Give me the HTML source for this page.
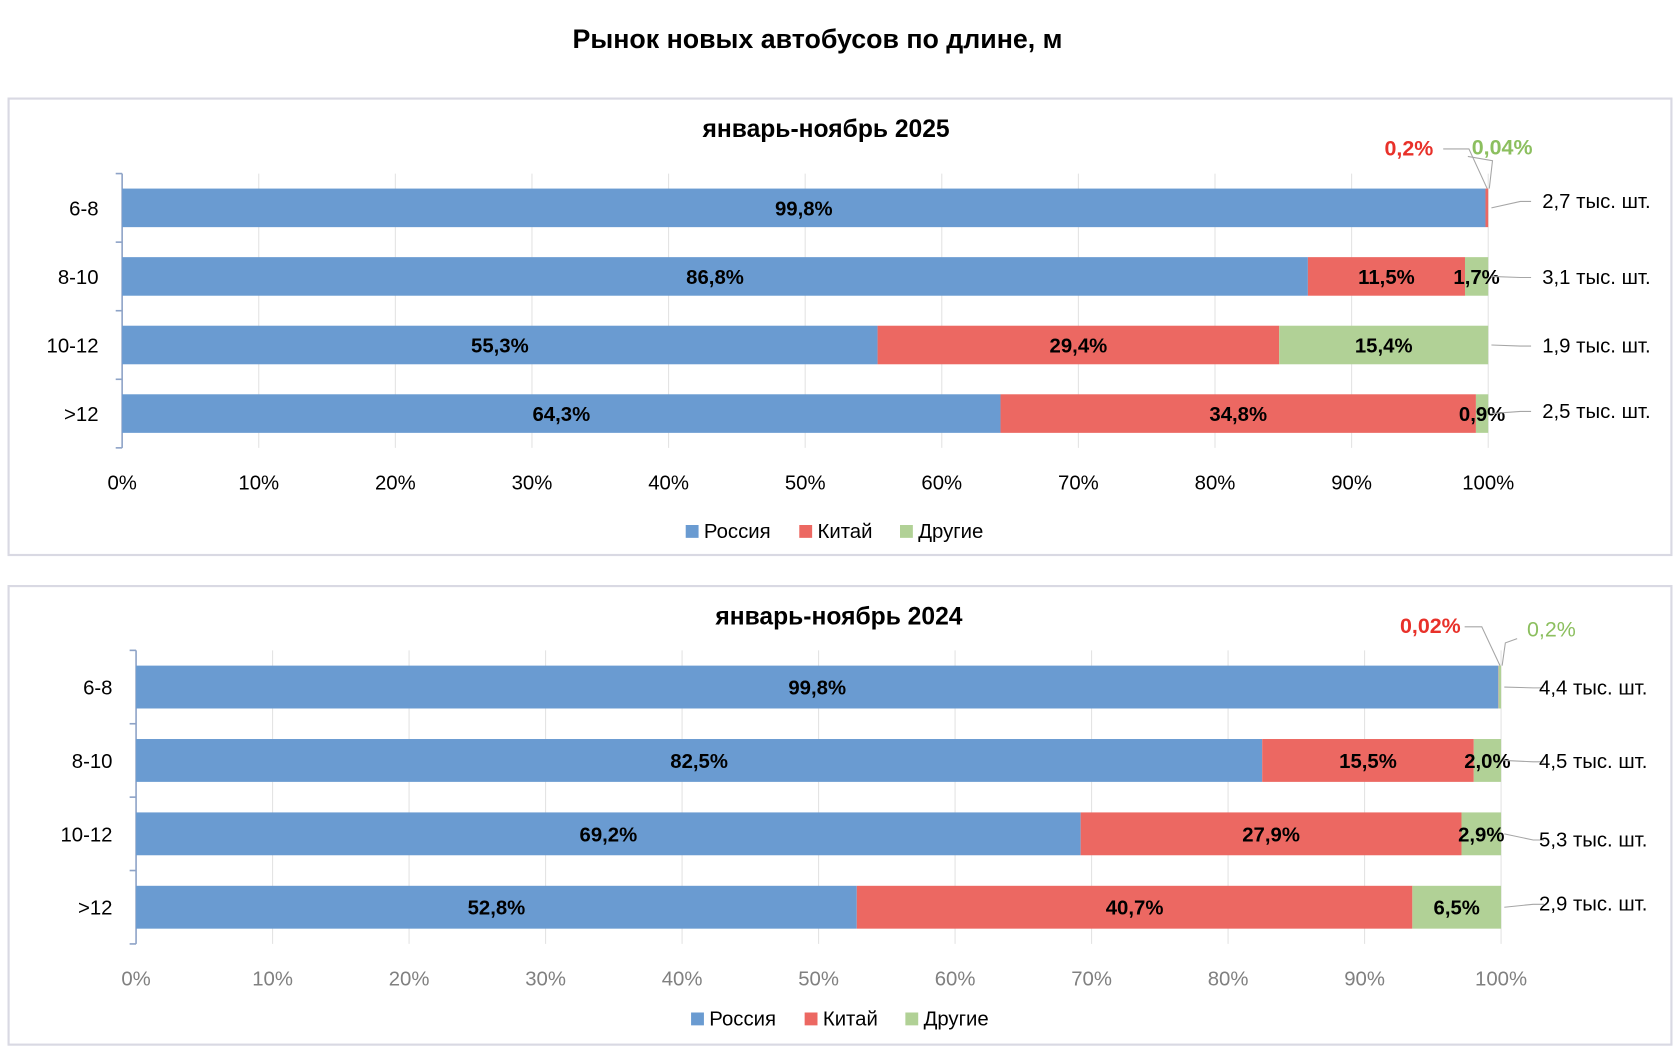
<!DOCTYPE html>
<html><head><meta charset="utf-8"><style>
html,body{margin:0;padding:0;background:#fff}
svg{display:block;font-family:"Liberation Sans",sans-serif}
</style></head><body>
<svg id="s" width="1680" height="1050" viewBox="0 0 1568 980">
<text x="763" y="45" text-anchor="middle" font-size="25" font-weight="bold" fill="#000">Рынок новых автобусов по длине, м</text>
</svg>
<script>
const categories=["6-8","8-10","10-12",">12"];
const russia2025=[99.8,86.8,55.3,64.3];
const china2025=[0.2,11.5,29.4,34.8];
const other2025=[0.04,1.7,15.4,0.9];
const totals2025=["2,7","3,1","1,9","2,5"];
const russia2024=[99.8,82.5,69.2,52.8];
const china2024=[0.02,15.5,27.9,40.7];
const other2024=[0.2,2.0,2.9,6.5];
const totals2024=["4,4","4,5","5,3","2,9"];
const ticks=[0,10,20,30,40,50,60,70,80,90,100];
const seriesNames=["Россия","Китай","Другие"];
const colors=["#6a9bd1","#ec6862","#b1d196"];
const NS="http://www.w3.org/2000/svg";
const svg=document.getElementById("s");
function mk(tag,attrs,parent){const e=document.createElementNS(NS,tag);for(const k in attrs)e.setAttribute(k,attrs[k]);(parent||svg).appendChild(e);return e;}
function fmt(v){return (v<0.1?String(v):v.toFixed(1)).replace('.',',')+'%';}
function panel(cfg){
  const g=mk("g",{});
  
  
  const box=mk("rect",{x:8,y:cfg.top,width:1552,height:cfg.h,fill:"#fff",stroke:"#d9d9e3","stroke-width":2},g);
  
  
  const st=mk("text",{x:cfg.titleX,y:cfg.top+36,"text-anchor":"middle","font-size":23,"font-weight":"bold"},g);
  st.textContent=cfg.title;
  
  
  const x=v=>cfg.x0+(cfg.x1-cfg.x0)*v/100;
  ticks.forEach(t=>{
    const l=mk("line",{x1:x(t),x2:x(t),y1:cfg.axTop,y2:cfg.gridBot,stroke:"#e3e3e3","stroke-width":1},g);
    
    
    const tl=mk("text",{x:x(t),y:cfg.tickY,"text-anchor":"middle","font-size":19,fill:cfg.tickColor},g);
    tl.textContent=t+"%";
    
    
  });
  const ax=mk("line",{x1:cfg.x0,x2:cfg.x0,y1:cfg.axTop,y2:cfg.axBot,stroke:"#8ea3c7","stroke-width":1.5},g);
  
  
  const step=(cfg.axBot-cfg.axTop)/categories.length;
  for(let i=0;i<=categories.length;i++){
    const tk=mk("line",{x1:cfg.x0-6,x2:cfg.x0,y1:cfg.axTop+i*step,y2:cfg.axTop+i*step,stroke:"#8ea3c7","stroke-width":1.5},g);
    
    
  }
  const data=[cfg.r,cfg.c,cfg.o];
  categories.forEach((cat,i)=>{
    const cy=cfg.axTop+step*(i+0.5);
    const bh=cfg.bh;
    const cl=mk("text",{x:cfg.x0-22,y:cy+7,"text-anchor":"end","font-size":19},g);
    cl.textContent=cat;
    
    
    let acc=0;
    data.forEach((arr,k)=>{
      const v=arr[i];const a=Math.min(acc,100),b=Math.min(acc+v,100);
      const r=mk("rect",{x:x(a),y:cy-bh/2,width:Math.max(0,x(b)-x(a)),height:bh,fill:colors[k]},g);
      
      
      if(v>=0.5){
        const t=mk("text",{x:(x(a)+x(b))/2,y:cy+7,"text-anchor":"middle","font-size":19,"font-weight":"bold"},g);
        t.textContent=fmt(v);
        
        
      }
      acc+=v;
    });
    const ly=cfg.totY[i];
    const ll=mk("polyline",{points:`${x(100)+3},${cy} ${x(100)+30},${ly-6} ${x(100)+40},${ly-6}`,fill:"none",stroke:"#a6a6a6","stroke-width":1},g);
    
    
    const tt=mk("text",{x:cfg.totX,y:ly,"text-anchor":"middle","font-size":19},g);
    tt.textContent=cfg.tot[i]+" тыс. шт.";
    
    
  });
  const cy0=cfg.axTop+step*0.5-cfg.bh/2;
  const rc=mk("text",{x:cfg.redX,y:cfg.redY,"text-anchor":"middle","font-size":20,"font-weight":"bold",fill:"#e8312a"},g);
  rc.textContent=fmt(cfg.c[0]);
  
  
  const rl=mk("polyline",{points:`${cfg.redX+32},${cfg.redY-6} ${x(100)-18},${cfg.redY-6} ${x(100)-1},${cy0}`,fill:"none",stroke:"#a6a6a6","stroke-width":1},g);
  
  
  const gc=mk("text",{x:cfg.grX,y:cfg.grY,"text-anchor":"middle","font-size":20,"font-weight":cfg.grBold,fill:"#8cbf5f"},g);
  gc.textContent=fmt(cfg.o[0]);
  
  
  const gl=mk("polyline",{points:`${cfg.grX-32},${cfg.grY+2} ${x(100)+4},${cfg.grY+6} ${x(100)+1},${cy0}`,fill:"none",stroke:"#a6a6a6","stroke-width":1},g);
  
  
  let lx=cfg.legX;
  seriesNames.forEach((n,k)=>{
    const sw=mk("rect",{x:lx,y:cfg.legY-12,width:12,height:12,fill:colors[k]},g);
    
    
    const lt=mk("text",{x:lx+17,y:cfg.legY,"font-size":19},g);
    lt.textContent=n;
    
    
    lx+=[106,94,0][k];
  });
}
panel({name:"panel-2025",top:92,h:426,title:"январь-ноябрь 2025",titleX:771,x0:114,x1:1389,axTop:162,axBot:418,gridBot:418,bh:36,tickY:457,tickColor:"#000",
  r:russia2025,c:china2025,o:other2025,tot:totals2025,totX:1490,totY:[194,265,329,390],
  redX:1315,redY:145,grX:1402,grY:144,grBold:"bold",legX:640,legY:502});
panel({name:"panel-2024",top:547,h:428,title:"январь-ноябрь 2024",titleX:783,x0:127,x1:1401,axTop:607,axBot:881,gridBot:881,bh:40,tickY:920,tickColor:"#808080",
  r:russia2024,c:china2024,o:other2024,tot:totals2024,totX:1487,totY:[648,717,790,850],
  redX:1335,redY:591,grX:1448,grY:594,grBold:"normal",legX:645,legY:957});
</script>
</body></html>
